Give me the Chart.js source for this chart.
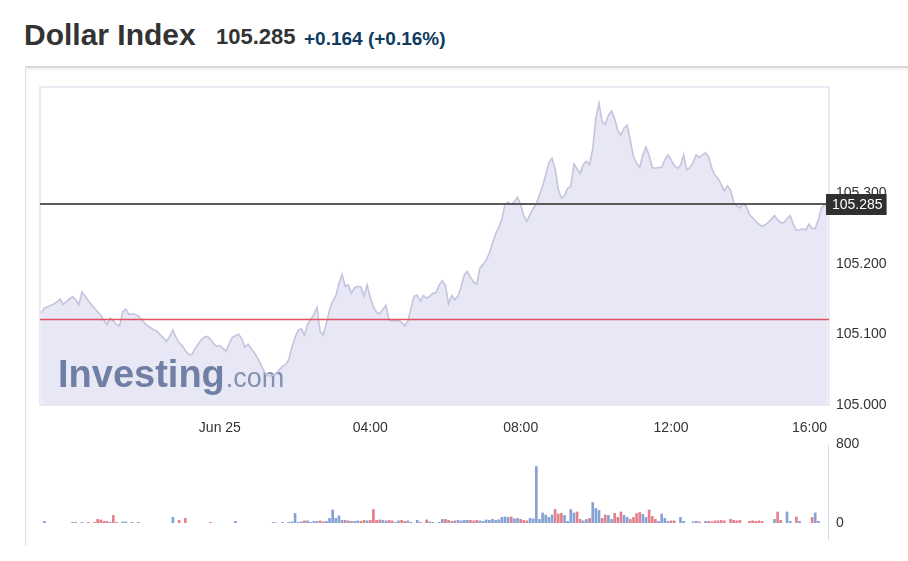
<!DOCTYPE html>
<html>
<head>
<meta charset="utf-8">
<title>Dollar Index</title>
<script src="https://cdn.jsdelivr.net/npm/chart.js@4.4.1/dist/chart.umd.min.js"></script>
<style>
  html, body { margin: 0; padding: 0; background: #fff; }
  body { width: 908px; height: 561px; position: relative; overflow: hidden; font-family: Arial, "Liberation Sans", sans-serif; }
  .hd { position: absolute; white-space: nowrap; line-height: 1; font-weight: bold; }
  #name { left: 24px; top: 20px; font-size: 30px; color: #333; }
  #last { left: 216px; top: 26px; font-size: 22px; color: #333; }
  #chg { left: 304px; top: 29px; font-size: 19px; color: #0f3b5f; }
  #frame { position: absolute; left: 25px; top: 66px; width: 900px; height: 478px;
           border-top: 2px solid #d9d9d9; border-left: 1px solid #e2e2e2; box-shadow: inset 0 2px 3px #f0f0f0; }
  canvas { position: absolute; left: 0; top: 0; }
</style>
</head>
<body>
<div class="hd" id="name">Dollar Index</div>
<div class="hd" id="last">105.285</div>
<div class="hd" id="chg">+0.164 (+0.16%)</div>
<div id="frame"></div>
<canvas id="price" width="908" height="561"></canvas>
<canvas id="volume" width="908" height="561"></canvas>
<script>
// 5-minute bars, minutes counted from Jun 25 00:00 (first bar Jun 24 19:15)
const SERIES_START = -285;
const STEP = 5;

const PRICE = [
  105.130, 105.137, 105.139, 105.141, 105.143, 105.146, 105.150, 105.142, 105.146, 105.150,
  105.153, 105.149, 105.142, 105.160, 105.154, 105.148, 105.142, 105.137, 105.132, 105.127,
  105.120, 105.114, 105.123, 105.119, 105.114, 105.112, 105.132, 105.136, 105.128, 105.129,
  105.128, 105.126, 105.121, 105.116, 105.112, 105.109, 105.106, 105.104, 105.099, 105.095,
  105.090, 105.097, 105.106, 105.096, 105.088, 105.084, 105.077, 105.072, 105.071, 105.079,
  105.086, 105.092, 105.096, 105.097, 105.093, 105.087, 105.083, 105.084, 105.080, 105.076,
  105.087, 105.096, 105.098, 105.100, 105.094, 105.082, 105.086, 105.080, 105.074, 105.067,
  105.058, 105.049, 105.042, 105.041, 105.042, 105.045, 105.050, 105.055, 105.057, 105.064,
  105.082, 105.096, 105.106, 105.108, 105.099, 105.114, 105.121, 105.128, 105.138, 105.104,
  105.099, 105.116, 105.134, 105.147, 105.154, 105.172, 105.185, 105.168, 105.170, 105.158,
  105.166, 105.168, 105.167, 105.154, 105.170, 105.152, 105.139, 105.131, 105.129, 105.135,
  105.141, 105.120, 105.119, 105.119, 105.120, 105.117, 105.112, 105.119, 105.137, 105.154,
  105.155, 105.147, 105.155, 105.151, 105.154, 105.158, 105.159, 105.170, 105.176, 105.169,
  105.143, 105.155, 105.149, 105.154, 105.167, 105.184, 105.189, 105.180, 105.174, 105.171,
  105.194, 105.199, 105.205, 105.215, 105.229, 105.242, 105.251, 105.263, 105.284, 105.287,
  105.284, 105.288, 105.294, 105.283, 105.268, 105.260, 105.270, 105.278, 105.285, 105.297,
  105.310, 105.326, 105.343, 105.349, 105.334, 105.305, 105.293, 105.296, 105.307, 105.309,
  105.341, 105.334, 105.328, 105.340, 105.345, 105.340, 105.363, 105.406, 105.427, 105.401,
  105.397, 105.410, 105.416, 105.405, 105.388, 105.382, 105.392, 105.396, 105.374, 105.352,
  105.342, 105.336, 105.354, 105.365, 105.353, 105.336, 105.335, 105.336, 105.336, 105.347,
  105.354, 105.347, 105.339, 105.335, 105.339, 105.354, 105.333, 105.336, 105.343, 105.354,
  105.350, 105.354, 105.357, 105.351, 105.335, 105.325, 105.321, 105.312, 105.303, 105.310,
  105.304, 105.286, 105.282, 105.279, 105.285, 105.281, 105.270, 105.265, 105.260, 105.256,
  105.253, 105.255, 105.258, 105.263, 105.268, 105.262, 105.258, 105.258, 105.264, 105.268,
  105.256, 105.247, 105.248, 105.249, 105.248, 105.256, 105.250, 105.250, 105.262, 105.279,
  105.283, 105.285
];

const VOLUME = [
  0, 20, 0, 0, 0, 0, 0, 0, 0, 0,
  10, 10, 0, 10, 0, 10, 0, 10, 40, 35,
  20, 20, 10, 80, 10, 0, 15, 15, 0, 10,
  0, 10, 0, 0, 0, 0, 0, 0, 0, 0,
  0, 0, 60, 0, 30, 0, 50, 0, 0, 0,
  0, 0, 0, 0, 10, 0, 0, 0, 0, 0,
  0, 0, 20, 0, 0, 0, 0, 0, 0, 0,
  0, 0, 0, 0, 10, 5, 0, 10, 0, 10,
  15, 100, 10, 15, 25, 25, 10, 20, 20, 25,
  15, 20, 50, 135, 50, 75, 30, 30, 25, 20,
  20, 25, 20, 30, 25, 30, 140, 30, 35, 30,
  25, 30, 25, 10, 25, 30, 20, 25, 10, 0,
  30, 10, 0, 35, 15, 10, 0, 10, 40, 40,
  30, 20, 25, 30, 25, 30, 30, 30, 25, 30,
  25, 20, 35, 30, 40, 30, 35, 60, 65, 60,
  65, 45, 50, 40, 30, 25, 50, 45, 575, 40,
  105, 85, 60, 85, 140, 95, 100, 80, 20, 140,
  105, 115, 40, 25, 40, 50, 210, 150, 130, 50,
  85, 80, 40, 100, 60, 115, 80, 60, 40, 60,
  100, 110, 90, 60, 135, 70, 40, 20, 95, 50,
  20, 25, 25, 0, 60, 20, 0, 0, 15, 20,
  15, 0, 20, 20, 15, 25, 25, 30, 25, 0,
  40, 30, 25, 30, 0, 0, 20, 25, 20, 25,
  20, 0, 0, 0, 40, 115, 30, 0, 115, 20,
  0, 65, 20, 0, 0, 0, 60, 105, 20, 0,
  0, 0
];

const LAST_PRICE = 105.285;
const PREV_CLOSE = 105.121;
const PRICE_TICKS = [105.0, 105.1, 105.2, 105.3];
const VOLUME_TICKS = [0, 800];
const TIME_TICKS = [0, 240, 480, 720, 960];
const TIME_LABELS = ['Jun 25', '04:00', '08:00', '12:00', '16:00'];
const X_MIN = -287, X_MAX = 972;

Chart.defaults.font.family = 'Arial, "Liberation Sans", sans-serif';
Chart.defaults.color = '#333';

const timeOf = i => SERIES_START + i * STEP;
const pricePoints = PRICE.map((v, i) => ({ x: timeOf(i), y: v }));
const volumePoints = VOLUME.map((v, i) => ({ x: timeOf(i), y: v }));

const priceDecor = {
  id: 'priceDecor',
  beforeDatasetsDraw(chart) {
    const { ctx } = chart;
    const a = chart.chartArea;
    ctx.save();
    // watermark
    ctx.textBaseline = 'alphabetic';
    ctx.fillStyle = '#6f80a4';
    ctx.font = 'bold 38px Arial, "Liberation Sans", sans-serif';
    ctx.fillText('Investing', a.left + 18, 387);
    const w = ctx.measureText('Investing').width;
    ctx.fillStyle = '#8491ae';
    ctx.font = '27px Arial, "Liberation Sans", sans-serif';
    ctx.fillText('.com', a.left + 18 + w + 1, 387);
    ctx.restore();
  },
  afterDatasetsDraw(chart) {
    const { ctx } = chart;
    const a = chart.chartArea;
    const x = chart.scales.x, y = chart.scales.y;
    ctx.save();
    // frame
    ctx.strokeStyle = '#e6e2f0';
    ctx.lineWidth = 1.5;
    ctx.strokeRect(a.left, a.top, a.right - a.left, a.bottom - a.top);
    // previous close
    let py = Math.round(y.getPixelForValue(PREV_CLOSE)) + 0.5;
    ctx.strokeStyle = '#e0505e';
    ctx.lineWidth = 1.5;
    ctx.beginPath(); ctx.moveTo(a.left, py); ctx.lineTo(a.right, py); ctx.stroke();
    // last price
    py = Math.round(y.getPixelForValue(LAST_PRICE));
    ctx.strokeStyle = '#5a5a5a';
    ctx.lineWidth = 2;
    ctx.beginPath(); ctx.moveTo(a.left, py); ctx.lineTo(a.right, py); ctx.stroke();
    ctx.font = '14px Arial, "Liberation Sans", sans-serif';
    const txt = LAST_PRICE.toFixed(3);
    const tw = ctx.measureText(txt).width;
    ctx.fillStyle = '#303030';
    ctx.fillRect(a.right - 3, py - 10, tw + 10, 21);
    ctx.fillStyle = '#fff';
    ctx.textBaseline = 'middle';
    ctx.fillText(txt, a.right + 3, py + 1);
    // time labels
    ctx.fillStyle = '#333';
    ctx.textAlign = 'center';
    TIME_TICKS.forEach((t, i) => {
      const w = ctx.measureText(TIME_LABELS[i]).width;
      const px = Math.min(x.getPixelForValue(t), a.right - w / 2 - 2);
      ctx.fillText(TIME_LABELS[i], px, a.bottom + 23);
    });
    ctx.restore();
  }
};

new Chart(document.getElementById('price'), {
  type: 'line',
  data: {
    datasets: [{
      data: pricePoints,
      borderColor: '#c4c4dc',
      borderWidth: 1.6,
      backgroundColor: '#e7e7f6',
      fill: 'start',
      pointRadius: 0,
      tension: 0
    }]
  },
  options: {
    responsive: false,
    animation: false,
    events: [],
    layout: { padding: { left: 40, top: 87, right: 0, bottom: 156 } },
    plugins: {
      legend: { display: false },
      tooltip: { enabled: false },
      filler: { drawTime: 'beforeDatasetsDraw' }
    },
    scales: {
      x: { type: 'linear', min: X_MIN, max: X_MAX, display: false },
      y: {
        position: 'right',
        min: 105.0,
        max: 105.45,
        grid: { display: false, drawTicks: false },
        border: { display: false },
        afterFit: s => { s.width = 79; },
        afterBuildTicks: s => { s.ticks = PRICE_TICKS.map(v => ({ value: v })); },
        ticks: { padding: 7, color: '#333', font: { size: 14 }, callback: v => Number(v).toFixed(3) }
      }
    }
  },
  plugins: [priceDecor]
});

const volumeDecor = {
  id: 'volumeDecor',
  afterDraw(chart) {
    const { ctx } = chart;
    const a = chart.chartArea;
    ctx.save();
    ctx.strokeStyle = '#d3daea';
    ctx.lineWidth = 1;
    ctx.beginPath();
    ctx.moveTo(a.right - 0.5, a.top + 1);
    ctx.lineTo(a.right - 0.5, a.bottom + 17);
    ctx.stroke();
    ctx.restore();
  }
};

new Chart(document.getElementById('volume'), {
  type: 'bar',
  data: {
    datasets: [{
      data: volumePoints,
      backgroundColor: c => (c.dataIndex > 0 && PRICE[c.dataIndex] < PRICE[c.dataIndex - 1]) ? '#e3808a' : '#86a2d4',
      borderWidth: 0,
      categoryPercentage: 1,
      barPercentage: 0.85
    }]
  },
  options: {
    responsive: false,
    animation: false,
    events: [],
    layout: { padding: { left: 40, top: 444, right: 0, bottom: 38 } },
    plugins: { legend: { display: false }, tooltip: { enabled: false } },
    scales: {
      x: { type: 'linear', min: X_MIN, max: X_MAX, offset: false, display: false },
      y: {
        position: 'right',
        min: 0,
        max: 800,
        grid: { display: false, drawTicks: false },
        border: { display: false },
        afterFit: s => { s.width = 79; },
        afterBuildTicks: s => { s.ticks = VOLUME_TICKS.map(v => ({ value: v })); },
        ticks: { padding: 7, color: '#333', font: { size: 14 } }
      }
    }
  },
  plugins: [volumeDecor]
});
</script>
</body>
</html>
